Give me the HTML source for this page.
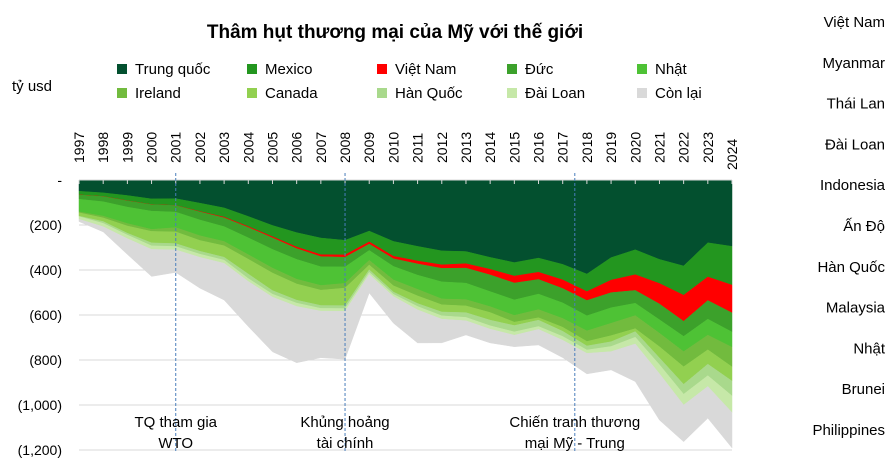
<!DOCTYPE html>
<html><head><meta charset="utf-8">
<style>
body{margin:0;background:#fff;width:894px;height:459px;overflow:hidden;font-family:"Liberation Sans","DejaVu Sans",sans-serif;}
svg text{font-family:"Liberation Sans","DejaVu Sans",sans-serif;}
</style></head>
<body>
<svg id="chart" width="894" height="459" xmlns="http://www.w3.org/2000/svg">
<text x="395" y="38" text-anchor="middle" font-size="19" font-weight="bold" fill="#000">Thâm hụt thương mại của Mỹ với thế giới</text>
<text x="12" y="91" font-size="15" fill="#000">tỷ usd</text>
<g id="legend"></g>
<g id="grid"></g>
<g id="areas"></g>
<g id="axes"></g>
<g id="right-list"></g>
</svg>
<script>
const years = [1997,1998,1999,2000,2001,2002,2003,2004,2005,2006,2007,2008,2009,2010,2011,2012,2013,2014,2015,2016,2017,2018,2019,2020,2021,2022,2023,2024];
const seriesNames = ["Trung quốc","Mexico","Việt Nam","Đức","Nhật","Ireland","Canada","Hàn Quốc","Đài Loan","Còn lại"];
const seriesColors = ["#03502f","#23961f","#ff0000","#3ca12b","#4ec235","#72bb3e","#92d050","#a9d98c","#c6e8a8","#d9d9d9"];
const china   = [50,57,69,84,83,103,124,162,202,234,258,268,227,273,295,315,318,344,367,347,375,418,345,310,353,382,279,295];
const mexico  = [16,16,23,25,30,37,41,45,50,64,74,65,48,66,65,62,54,53,60,63,69,78,100,111,107,130,152,172];
const vietnam = [0.5,0.5,0.5,0.5,0.5,1.7,3.2,4,5.4,7,8.7,10.3,9.9,11,13,15.6,19.6,24.9,30.9,32,38.3,39.5,55.8,69.7,90.9,116,104.6,123.5];
const germany = [19,23,28,29,29,36,39,46,51,48,45,43,28,34,50,60,67,74,75,65,64,68,67,57,70,67,83,85];
const japan   = [56,64,73,81,69,70,66,75,83,88,83,73,44,60,63,76,73,67,69,69,69,67,69,55,60,68,71,68];
const ireland = [4,8,11,9,19,21,19,20,22,21,21,21,21,26,29,26,28,26,30,36,39,47,55,58,60,67,65,87];
const canada  = [15,16,32,51,52,48,51,66,78,72,68,78,21,28,34,32,30,34,15,11,18,20,27,13,50,78,64,63];
const korea   = [2,8,8,13,13,13,13,20,16,13,13,13,11,10,13,17,21,25,28,28,23,18,21,25,30,44,51,66];
const taiwan  = [12,15,16,16,15,14,14,13,13,15,12,12,10,10,15,15,15,15,15,13,17,15,23,30,40,48,48,74];
const others  = [10,23,70,120,100,137,163,200,243,250,207,213,82,118,147,105,63,61,51,69,77,91,81,167,206,163,141,157];
const yTicks = [0,200,400,600,800,1000,1200];
const yTickLabels = ["-","(200)","(400)","(600)","(800)","(1,000)","(1,200)"];
const events = [2001,2008,2017.5];
const eventLabels = [["TQ tham gia","WTO"],["Khủng hoảng","tài chính"],["Chiến tranh thương","mại Mỹ - Trung"]];
const countries = ["Việt Nam","Myanmar","Thái Lan","Đài Loan","Indonesia","Ấn Độ","Hàn Quốc","Malaysia","Nhật","Brunei","Philippines"];

const allSeries = [china,mexico,vietnam,germany,japan,ireland,canada,korea,taiwan,others];
const X0=79,X1=732,Y0=180,PPU=0.225;
function xs(yr){return X0+(yr-years[0])*(X1-X0)/(years[years.length-1]-years[0]);}
function ys(v){return Y0+v*PPU;}
const NS="http://www.w3.org/2000/svg";
function mk(tag,attrs,parent){const e=document.createElementNS(NS,tag);for(const k in attrs)e.setAttribute(k,attrs[k]);parent.appendChild(e);return e;}

// legend
const lg=document.getElementById('legend');
seriesNames.forEach((n,i)=>{
  const col=i%5,row=Math.floor(i/5);
  const lx=117+col*130,ly=64+row*24;
  const r=mk('rect',{x:lx,y:ly,width:10,height:10,fill:seriesColors[i]},lg);
  
  
  const t=mk('text',{x:lx+18,y:ly+10,'font-size':15,fill:'#000'},lg);
  t.textContent=n;
  
  
});

// grid
const gr=document.getElementById('grid');
yTicks.forEach((v,i)=>{
  if(i>0){const l=mk('line',{x1:X0,x2:X1,y1:ys(v),y2:ys(v),stroke:'#d9d9d9','stroke-width':1},gr);
  
  }
  const t=mk('text',{x:62,y:ys(v)+5,'text-anchor':'end','font-size':14,fill:'#000'},gr);
  t.textContent=yTickLabels[i];
  
  
});

// stacked areas
const ar=document.getElementById('areas');
let prev=years.map(()=>0);
allSeries.forEach((s,si)=>{
  const cur=prev.map((p,i)=>p+s[i]);
  let d='M'+years.map((y,i)=>xs(y)+','+ys(prev[i])).join('L');
  d+='L'+years.slice().reverse().map((y,j)=>{const i=years.length-1-j;return xs(y)+','+ys(cur[i]);}).join('L')+'Z';
  const p=mk('path',{d:d,fill:seriesColors[si],stroke:seriesColors[si],'stroke-width':0.5},ar);
  
  
  prev=cur;
});

// axes, ticks, year labels
const ax=document.getElementById('axes');
mk('line',{x1:X0,x2:X1,y1:Y0,y2:Y0,stroke:'#d9d9d9','stroke-width':1},ax);
years.forEach(y=>{
  const x=xs(y);
  const tk=mk('line',{x1:x,x2:x,y1:Y0,y2:Y0+4,stroke:'#d9d9d9','stroke-width':1},ax);
  
  
  const t=mk('text',{x:0,y:0,'font-size':14,fill:'#000',transform:'translate('+(x+5)+','+(y===2024?170:163)+') rotate(-90)'},ax);
  t.textContent=y;
  
  
});
events.forEach((e,i)=>{
  const x=xs(e);
  const l=mk('line',{x1:x,x2:x,y1:Y0-7,y2:452,stroke:'#4a7ebb','stroke-width':1,'stroke-dasharray':'3,2'},ax);
  
  
  eventLabels[i].forEach((s,j)=>{
    const t=mk('text',{x:x,y:427+j*21,'text-anchor':'middle','font-size':15,fill:'#000'},ax);
    t.textContent=s;
    
    
  });
});

// right list
const rl=document.getElementById('right-list');
countries.forEach((c,i)=>{
  const t=mk('text',{x:885,y:27+i*40.8,'text-anchor':'end','font-size':15,fill:'#000'},rl);
  t.textContent=c;
  
  
});
</script>
</body></html>
